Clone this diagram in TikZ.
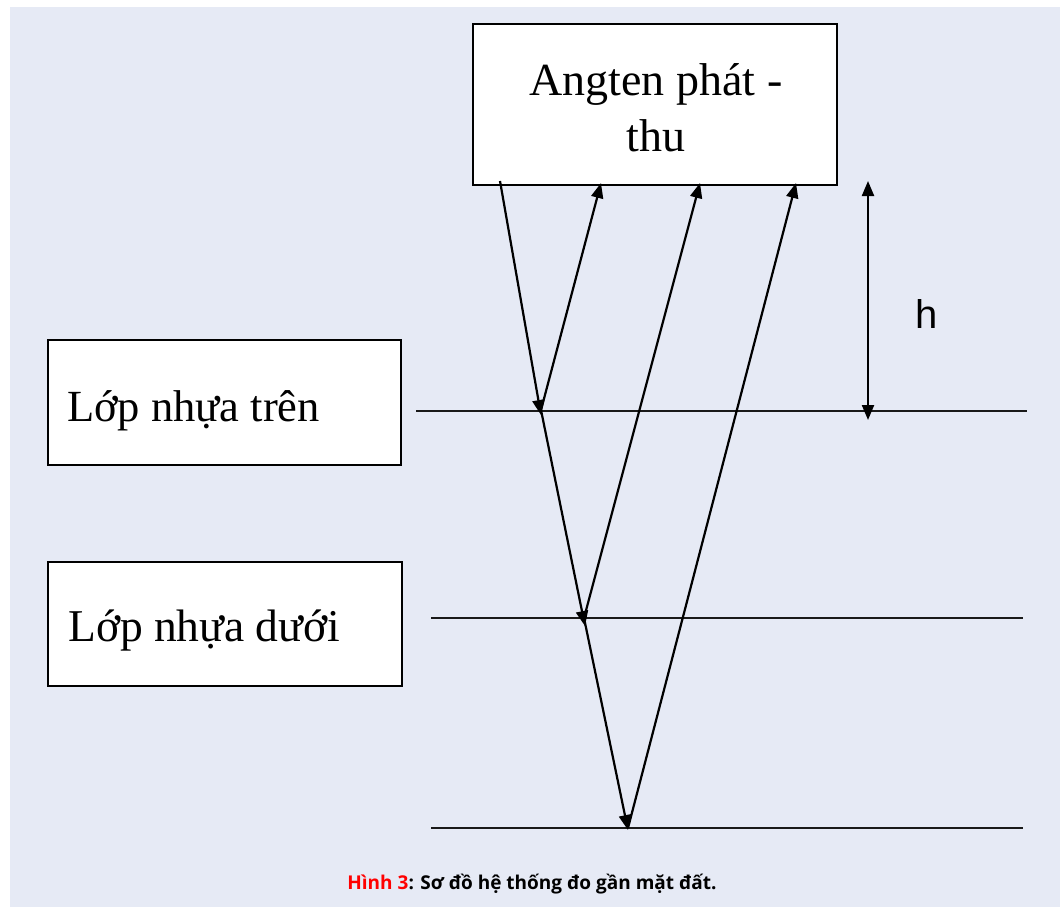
\documentclass[tikz,border=0pt]{standalone}
\usepackage{fontspec}
\setmainfont{Liberation Serif}
\newfontfamily\hfont{Liberation Sans}
\newfontfamily\capfont{Open Sans}
\usetikzlibrary{arrows.meta}
\definecolor{bgblue}{HTML}{E6EAF5}
\definecolor{capred}{HTML}{FF0000}
\tikzset{
  boxnode/.style={draw=black, line width=2.3pt, fill=white, inner sep=0pt},
  layerline/.style={line width=2.6pt, black!90},
  ray/.style={line width=2.2pt, -{Triangle[length=15pt,width=12pt]}},
  dimarrow/.style={line width=2.2pt, {Triangle[length=15pt,width=12pt]}-{Triangle[length=15pt,width=12pt]}}
}
\begin{document}
\begin{tikzpicture}[x=1pt,y=-1pt]
\useasboundingbox (0,0) rectangle (1060,907);
\fill[white] (0,0) rectangle (1060,907);
\fill[bgblue] (10,7) rectangle (1060,907);
% boxes
\node[boxnode, minimum width=364pt, minimum height=161pt] (ant) at (655,104.5) {};
\node[align=center, font=\fontsize{46}{56}\selectfont] (anttext) at (656,108) {Angten phát -\\thu};
\node[boxnode, minimum width=353pt, minimum height=125pt] (top) at (224.5,402.5) {};
\node[anchor=base west, font=\fontsize{44.5}{55}\selectfont, inner sep=0pt] (toptext) at (67,421) {Lớp nhựa trên};
\node[boxnode, minimum width=354pt, minimum height=124pt] (bot) at (225,624) {};
\node[anchor=base west, font=\fontsize{45.5}{55}\selectfont, inner sep=0pt] (bottext) at (68,641) {Lớp nhựa dưới};
% layer lines
\coordinate (l1a) at (416,411); \coordinate (l1b) at (1027,411);
\coordinate (l2a) at (431,618); \coordinate (l2b) at (1023,618);
\coordinate (l3a) at (431,828); \coordinate (l3b) at (1023,828);
\draw[layerline] (l1a) -- (l1b);
\draw[layerline] (l2a) -- (l2b);
\draw[layerline] (l3a) -- (l3b);
% rays
\coordinate (s0) at (500,181);
\coordinate (p1) at (541,415);
\coordinate (q1) at (541,410);
\coordinate (r1) at (601,183);
\coordinate (p2) at (585,626);
\coordinate (q2) at (584,618);
\coordinate (r2) at (700,183);
\coordinate (p3) at (628,830);
\coordinate (q3) at (628,828);
\coordinate (r3) at (796,183);
\draw[ray] (s0) -- (p1);
\draw[ray] (q1) -- (r1);
\draw[ray] (q1) -- (p2);
\draw[ray] (q2) -- (r2);
\draw[ray] (q2) -- (p3);
\draw[ray] (q3) -- (r3);
% height
\coordinate (h1) at (868,181);
\coordinate (h2) at (868,420);
\draw[dimarrow] (h1) -- (h2);
\node[font=\hfont\fontsize{40}{44}\selectfont] (hlab) at (927,314) {h};
% caption
\node[font=\capfont\bfseries\fontsize{19}{22}\selectfont] (cap) at (532,884) {\textcolor{capred}{Hình 3}: Sơ đồ hệ thống đo gần mặt đất.};
\end{tikzpicture}
\end{document}
